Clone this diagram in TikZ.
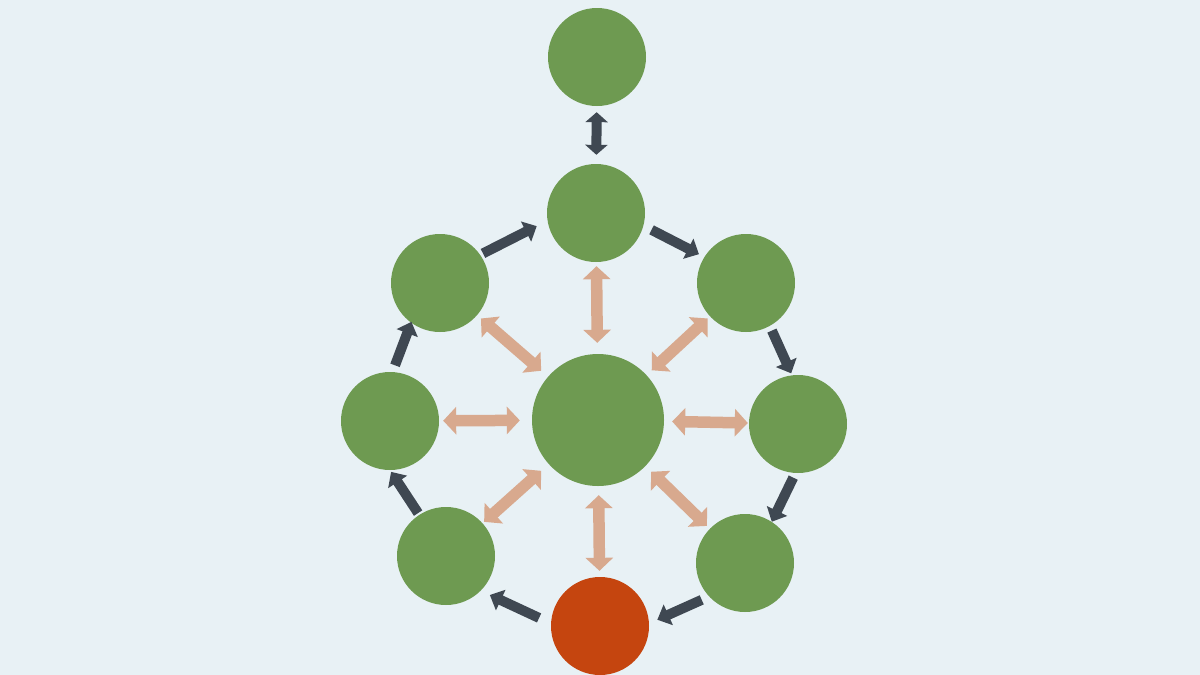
\documentclass[tikz,border=0pt]{standalone}
\usetikzlibrary{arrows.meta}
\definecolor{bg}{HTML}{E8F1F5}
\definecolor{leaf}{HTML}{6E9A51}
\definecolor{hot}{HTML}{C5450F}
\definecolor{darkarr}{HTML}{3F4852}
\definecolor{peach}{HTML}{D8A98E}
\tikzset{
  ball/.style={circle, fill=leaf, draw=none, inner sep=0pt, minimum size=98pt},
  bigball/.style={ball, minimum size=132pt},
  redball/.style={ball, fill=hot},
  darkflow/.style={draw=darkarr, line width=10pt, -{Triangle[length=12pt,width=22pt]}},
  darkboth/.style={draw=darkarr, line width=10pt, {Triangle[length=10pt,width=22pt]}-{Triangle[length=10pt,width=22pt]}},
  peachboth/.style={draw=peach, line width=11.5pt, {Triangle[length=13pt,width=27pt]}-{Triangle[length=13pt,width=27pt]}}
}
\begin{document}
\begin{tikzpicture}[x=1pt,y=-1pt]
\fill[bg] (0,0) rectangle (1200,675);
\useasboundingbox (0,0) rectangle (1200,675);
\node[ball] (top) at (597,57) {};
\node[ball] (n) at (596,213) {};
\node[ball] (ne) at (746,283) {};
\node[ball] (e) at (798,424) {};
\node[ball] (se) at (745,563) {};
\node[redball] (s) at (600,626) {};
\node[ball] (sw) at (446,556) {};
\node[ball] (w) at (390,421) {};
\node[ball] (nw) at (440,283) {};
\node[bigball] (c) at (598,420) {};
% dark ring arrows
\draw[darkboth, shorten <=6pt, shorten >=9pt] (top) -- (n);
\draw[darkflow, shorten <=3pt, shorten >=12pt] (nw.35) -- (n.189);
\draw[darkflow, shorten <=9pt, shorten >=6pt] (n.-15) -- (ne.148);
\draw[darkflow, shorten <=5pt, shorten >=2pt] (ne.-61) -- (e.97);
\draw[darkflow, shorten <=5pt, shorten >=0pt] (e.-93) -- (se.57);
\draw[darkflow, shorten <=8pt, shorten >=9pt] (se.-137) -- (s.3);
\draw[darkflow, shorten <=13pt, shorten >=10pt] (s.177) -- (sw.-45);
\draw[darkflow, shorten <=2pt, shorten >=2pt] (sw.123) -- (w.-90);
\draw[darkflow, shorten <=7pt, shorten >=-1pt] (w.87) -- (nw.-126);
% peach spokes
\draw[peachboth, shorten <=4pt, shorten >=11pt] (n) -- (c);
\draw[peachboth, shorten <=3pt, shorten >=7pt] (ne) -- (c);
\draw[peachboth, shorten <=1pt, shorten >=8pt] (e) -- (c);
\draw[peachboth, shorten <=4pt, shorten >=8pt] (se) -- (c);
\draw[peachboth, shorten <=6pt, shorten >=9pt] (s) -- (c);
\draw[peachboth, shorten <=2pt, shorten >=10pt] (sw) -- (c);
\draw[peachboth, shorten <=4pt, shorten >=12pt] (w) -- (c);
\draw[peachboth, shorten <=5pt, shorten >=9pt] (nw) -- (c);
\end{tikzpicture}
\end{document}
